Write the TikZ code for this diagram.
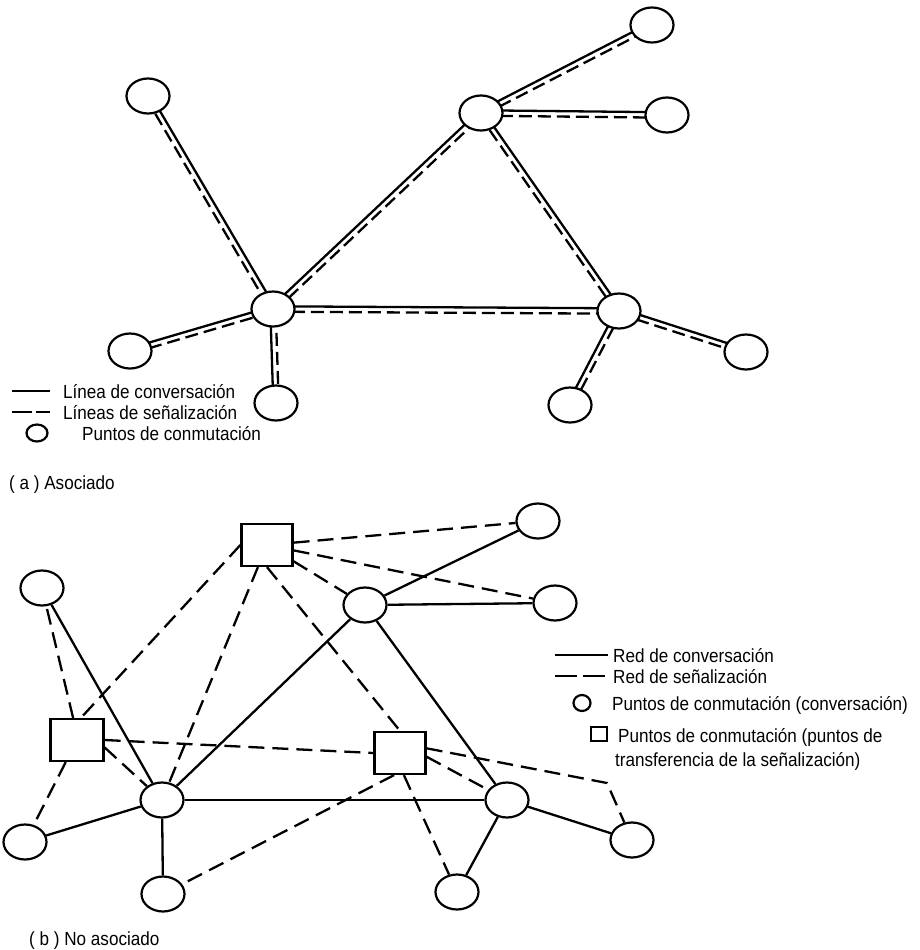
\documentclass[tikz,border=0pt]{standalone}
\usepackage{fontspec}
\setmainfont{Liberation Sans}[FakeStretch=0.9]
\usetikzlibrary{shapes.geometric,calc}
\pgfdeclarelayer{background}
\pgfsetlayers{background,main}

\tikzset{
  sw/.style={ellipse, draw, line width=2.2pt, fill=white,
    minimum width=43pt, minimum height=35pt, inner sep=0pt},
  stp/.style={rectangle, draw, line width=2.2pt, fill=white,
    minimum width=51pt, minimum height=42pt, inner sep=0pt},
  conv/.style={line width=2.3pt},
  sigA/.style={line width=2.3pt, dash pattern=on 13pt off 6pt},
  sigB/.style={line width=2.3pt, dash pattern=on 16pt off 8pt},
  lbl/.style={anchor=base west, inner sep=0pt, font=\fontsize{19}{22}\selectfont},
}

% conversation line (left of #1->#2) paired with a signalling line (right of it)
\newcommand\twinlink[2]{%
  \draw[conv] ($(#1.center)!2.7pt!90:(#2.center)$) -- ($(#2.center)!2.7pt!-90:(#1.center)$);
  \draw[sigA] ($(#1.center)!2.7pt!-90:(#2.center)$) -- ($(#2.center)!2.7pt!90:(#1.center)$);
}

\begin{document}
\begin{tikzpicture}[x=1pt,y=-1pt]
\useasboundingbox (0,0) rectangle (919,950);

% ---------------- (a) associated ----------------
\node[sw] (T1) at (148,96) {};
\node[sw] (H1) at (273,309) {};
\node[sw] (H2) at (481,113) {};
\node[sw] (TR) at (652,25) {};
\node[sw] (RR) at (667,115) {};
\node[sw] (H3) at (619,311) {};
\node[sw] (BL) at (130,351) {};
\node[sw] (BB) at (276,403) {};
\node[sw] (B2) at (570,405) {};
\node[sw] (RL) at (746,352) {};

\begin{pgfonlayer}{background}
  \twinlink{T1}{H1}
  \twinlink{H1}{H2}
  \twinlink{H2}{TR}
  \twinlink{H2}{RR}
  \twinlink{H2}{H3}
  \twinlink{H1}{H3}
  \twinlink{BL}{H1}
  \twinlink{BB}{H1}
  \twinlink{B2}{H3}
  \twinlink{H3}{RL}
\end{pgfonlayer}

% legend (a)
\coordinate (la1) at (12,391); \coordinate (la2) at (50,391);
\draw[conv] (la1) -- (la2);
\coordinate (lb1) at (12,412); \coordinate (lb2) at (50,412);
\draw[line width=2.3pt, dash pattern=on 20pt off 4pt] (lb1) -- (lb2);
\node[ellipse, draw, line width=2.2pt, minimum width=21pt, minimum height=17pt, inner sep=0pt] (lc) at (37,433) {};
\node[lbl] (ta1) at (63,398) {Línea de conversación};
\node[lbl] (ta2) at (63,419) {Líneas de señalización};
\node[lbl] (ta3) at (82,440) {Puntos de conmutación};
\node[lbl] (capa) at (9,489) {( a ) Asociado};

% ---------------- (b) non-associated ----------------
\node[sw] (L)  at (42,588) {};
\node[sw] (A)  at (365,605) {};
\node[sw] (Q)  at (538,521) {};
\node[sw] (R)  at (555,603) {};
\node[sw] (C)  at (162,800) {};
\node[sw] (D)  at (507,800) {};
\node[sw] (E)  at (25,842) {};
\node[sw] (F)  at (163,894) {};
\node[sw] (G)  at (457,892) {};
\node[sw] (K)  at (632,840) {};
\node[stp] (S1) at (267,545) {};
\node[stp, minimum width=53pt] (S2) at (77,740) {};
\node[stp] (S3) at (400,753) {};
\coordinate (kink) at (607,783);

\begin{pgfonlayer}{background}
  % conversation network
  \draw[conv] (L) -- (C);
  \draw[conv] (C) -- (A);
  \draw[conv] (A) -- (Q);
  \draw[conv] (A) -- (R);
  \draw[conv] (A) -- (D);
  \draw[conv] (C) -- (D);
  \draw[conv] (C) -- (E);
  \draw[conv] (C) -- (F);
  \draw[conv] (D) -- (G);
  \draw[conv] (D) -- (K);
  % signalling network
  \draw[sigB] (S1) -- (Q);
  \draw[sigB] (S1) -- (R);
  \draw[sigB] (S1) -- (A);
  \draw[sigB] (S1.south) -- (S3.north);
  \draw[sigB] (S1) -- (C);
  \draw[sigB] (S1.west) -- (S2.80);
  \draw[sigB] (S2.100) -- (L);
  \draw[sigB] (S2.east) -- (S3.west);
  \draw[sigB] (S2.-15) -- (C);
  \draw[sigB] (S2) -- (E);
  \draw[sigB] (S3.-8) -- (D);
  \draw[sigB] (S3.-105) -- (F);
  \draw[sigB] (S3.-80) -- (G);
  \draw[sigB] (S3.10) -- (kink) -- (K);
\end{pgfonlayer}

% legend (b)
\coordinate (lm1) at (555,655); \coordinate (lm2) at (608,655);
\draw[conv] (lm1) -- (lm2);
\coordinate (ln1) at (555,676); \coordinate (ln2) at (608,676);
\draw[line width=2.3pt, dash pattern=on 22pt off 6pt] (ln1) -- (ln2);
\node[ellipse, draw, line width=2.2pt, minimum width=17pt, minimum height=16pt, inner sep=0pt] (lo) at (582,703) {};
\node[rectangle, draw, line width=1.6pt, minimum width=16pt, minimum height=14pt, inner sep=0pt] (lq) at (599,734) {};
\node[lbl] (tb1) at (613,662) {Red de conversación};
\node[lbl] (tb2) at (613,683) {Red de señalización};
\node[lbl] (tb3) at (612,710) {Puntos de conmutación (conversación)};
\node[lbl] (tb4) at (618,742) {Puntos de conmutación (puntos de};
\node[lbl] (tb5) at (615,766) {transferencia de la señalización)};
\node[lbl] (capb) at (29,945) {( b ) No asociado};

\end{tikzpicture}
\end{document}
